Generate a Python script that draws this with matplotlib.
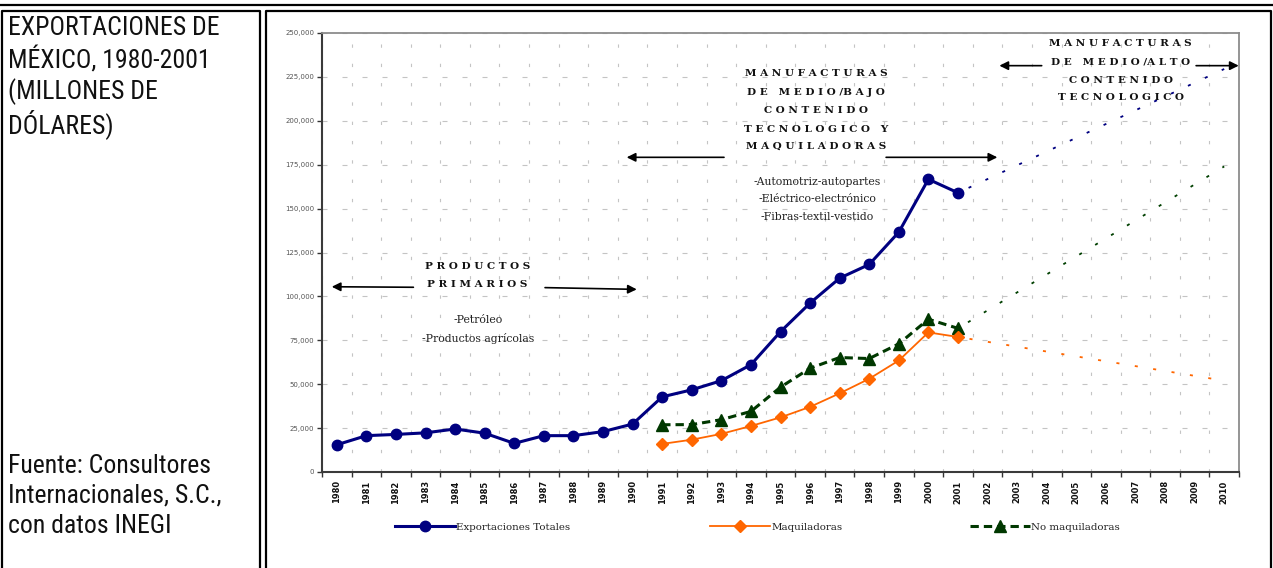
import matplotlib
matplotlib.use('Agg')
import matplotlib.pyplot as plt
from matplotlib import font_manager as fm
from matplotlib.ticker import FuncFormatter

# ---------------- data (millones de dólares) ----------------
years = [str(y) for y in range(1980, 2011)]
total_years = list(range(1980, 2002))
total = [15500, 20700, 21400, 22300, 24500, 22100, 16300, 20700, 20700, 23000,
         27300, 42800, 46800, 52000, 61100, 79900, 96200, 110400, 118200,
         136600, 166700, 159000]
maq_years = list(range(1991, 2002))
maq = [16000, 18400, 21700, 26200, 31100, 37100, 44800, 53100, 63500, 79500, 76900]
nomaq = [26900, 27000, 29800, 34500, 48300, 59100, 65200, 64600, 73000, 87000, 81800]
proj_years = [2001, 2010]
proj_total = [159000, 229500]
proj_nomaq = [81800, 174000]
proj_maq = [76900, 52000]
yticks = list(range(0, 250001, 25000))

plt.rcParams['lines.scale_dashes'] = False

W, H = 1273, 568
fig = plt.figure(figsize=(W / 100, H / 100), dpi=100)

avail = {f.name for f in fm.fontManager.ttflist}
def pick(*names):
    for n in names:
        if n in avail:
            return n
    return 'DejaVu Sans'
narrow = pick('Liberation Sans Narrow', 'DejaVu Sans Condensed', 'Roboto Condensed', 'Liberation Sans')
serif = 'DejaVu Serif'

# ---------------- background frame axes (pixel coords) ----------------
bg = fig.add_axes([0, 0, 1, 1], zorder=0)
bg.set_xlim(0, W)
bg.set_ylim(H, 0)
bg.axis('off')
kw = dict(color='black', lw=1.6, solid_capstyle='butt')
bg.plot([0, W], [5, 5], **kw)
bg.plot([2, 2, 260, 260], [H, 11, 11, H], **kw)
bg.plot([266, 266, 1271, 1271], [H, 11, 11, H], **kw)

title_lines = ["EXPORTACIONES DE", "MÉXICO, 1980-2001", "(MILLONES DE", "DÓLARES)"]
for i, t in enumerate(title_lines):
    bg.text(8, 28 + i * 32, t, fontsize=18.5, family=narrow, va='center', ha='left', color='#111')
src_lines = ["Fuente: Consultores", "Internacionales, S.C.,", "con datos INEGI"]
for i, t in enumerate(src_lines):
    bg.text(8, 466 + i * 30, t, fontsize=18.5, family=narrow, va='center', ha='left', color='#111')

# ---------------- main chart ----------------
ax = fig.add_axes([322 / W, 1 - 472 / H, 917 / W, 439 / H], zorder=1)
ax.set_xlim(-0.5, 30.5)
ax.set_ylim(0, 250000)

idx = lambda ys: [y - 1980 for y in ys]

ax.plot(idx(proj_years), proj_total, color='#000080', lw=1.3, linestyle=(5, (2.2, 11.2)), zorder=2)
ax.plot(idx(proj_years), proj_nomaq, color='#004000', lw=1.3, linestyle=(5, (2.2, 11.2)), zorder=2)
ax.plot(idx(proj_years), proj_maq, color='#FF6600', lw=1.3, linestyle=(5, (2.2, 11.2)), zorder=2)

l_tot, = ax.plot(idx(total_years), total, color='#000080', lw=2.2, marker='o', ms=7.5,
                 label='Exportaciones Totales', zorder=4)
l_maq, = ax.plot(idx(maq_years), maq, color='#FF6600', lw=1.3, marker='D', ms=6,
                 label='Maquiladoras', zorder=4)
l_nom, = ax.plot(idx(maq_years), nomaq, color='#003800', lw=2.2, marker='^', ms=8.5,
                 linestyle=(0, (6, 3.6)), label='No maquiladoras', zorder=3)

# axes styling
ax.set_xticks(range(len(years)))
ax.set_xticklabels(years, rotation=90, fontsize=6, fontweight='bold', color='#111')
ax.tick_params(axis='x', which='major', length=0, pad=6)
ax.set_xticks([i - 0.5 for i in range(len(years) + 1)], minor=True)
ax.tick_params(axis='x', which='minor', length=3.5, width=1, color='#333', direction='out')
ax.set_yticks(yticks)
ax.yaxis.set_major_formatter(FuncFormatter(lambda v, p: f"{int(v):,}"))
ax.tick_params(axis='y', labelsize=5, labelcolor='#555', length=3.5, width=1, color='#333', pad=2)
ax.grid(axis='y', which='major', color='#c4c4c4', lw=0.8, linestyle=(0, (3.6, 10.8)))
ax.grid(axis='x', which='minor', color='#c4c4c4', lw=0.8, linestyle=(0, (2.4, 11.5)))
ax.grid(axis='x', which='major', visible=False)
ax.set_axisbelow(True)
for s in ('left', 'bottom'):
    ax.spines[s].set_color('#3a3a3a')
    ax.spines[s].set_linewidth(1.5)
for s in ('top', 'right'):
    ax.spines[s].set_color('#8c8c8c')
    ax.spines[s].set_linewidth(1.3)

# ---------------- annotations ----------------
bold = dict(family=serif, fontweight='bold', fontsize=7.5, ha='center', va='center', color='#111')
plain = dict(family=serif, fontsize=7.8, ha='center', va='center', color='#222')
arrow = dict(arrowstyle='-|>', color='black', lw=1.2, mutation_scale=13, shrinkA=0, shrinkB=0)

def spaced(s):
    return ' '.join(s)

ax.text(4.75, 117300, spaced('PRODUCTOS'), **bold)
ax.text(4.75, 107000, spaced('PRIMARIOS'), **bold)
ax.annotate('', xy=(-0.17, 105500), xytext=(2.59, 105200), arrowprops=arrow, annotation_clip=False)
ax.annotate('', xy=(10.14, 104000), xytext=(7.04, 105000), arrowprops=arrow, annotation_clip=False)
ax.text(4.78, 86600, '-Petróleo', **plain)
ax.text(4.78, 76100, '-Productos agrícolas', **plain)

for t, yv in zip(['MANUFACTURAS', 'DE MEDIO/BAJO', 'CONTENIDO', 'TECNOLOGICO Y', 'MAQUILADORAS'],
                 [226700, 216000, 205800, 195300, 185300]):
    ax.text(16.2, yv, spaced(t).replace('/ ', '/'), **bold)
ax.annotate('', xy=(9.8, 179200), xytext=(13.09, 179200), arrowprops=arrow, annotation_clip=False)
ax.annotate('', xy=(22.33, 179200), xytext=(18.57, 179200), arrowprops=arrow, annotation_clip=False)
for t, yv in zip(['-Automotriz-autopartes', '-Eléctrico-electrónico', '-Fibras-textil-vestido'],
                 [165000, 155500, 145400]):
    ax.text(16.25, yv, t, **plain)

for t, yv in zip(['MANUFACTURAS', 'DE MEDIO/ALTO', 'CONTENIDO', 'TECNOLOGICO'],
                 [244000, 233700, 223200, 213400]):
    ax.text(26.5, yv, spaced(t).replace('/ ', '/'), **bold)
ax.annotate('', xy=(22.4, 231400), xytext=(23.83, 231400), arrowprops=arrow, annotation_clip=False)
ax.annotate('', xy=(30.49, 231400), xytext=(29.05, 231400), arrowprops=arrow, annotation_clip=False)

# ---------------- legend ----------------
for h, xpx in [(l_tot, 395), (l_maq, 710), (l_nom, 970)]:
    lg = fig.legend(handles=[h], loc='center left', bbox_to_anchor=(xpx / W, 1 - 527 / H),
                    frameon=False, handlelength=5.8, handletextpad=0.15, borderpad=0,
                    borderaxespad=0, prop={'family': serif, 'size': 7.4}, labelcolor='#222')

fig.savefig('out.png', dpi=100, facecolor='white')
